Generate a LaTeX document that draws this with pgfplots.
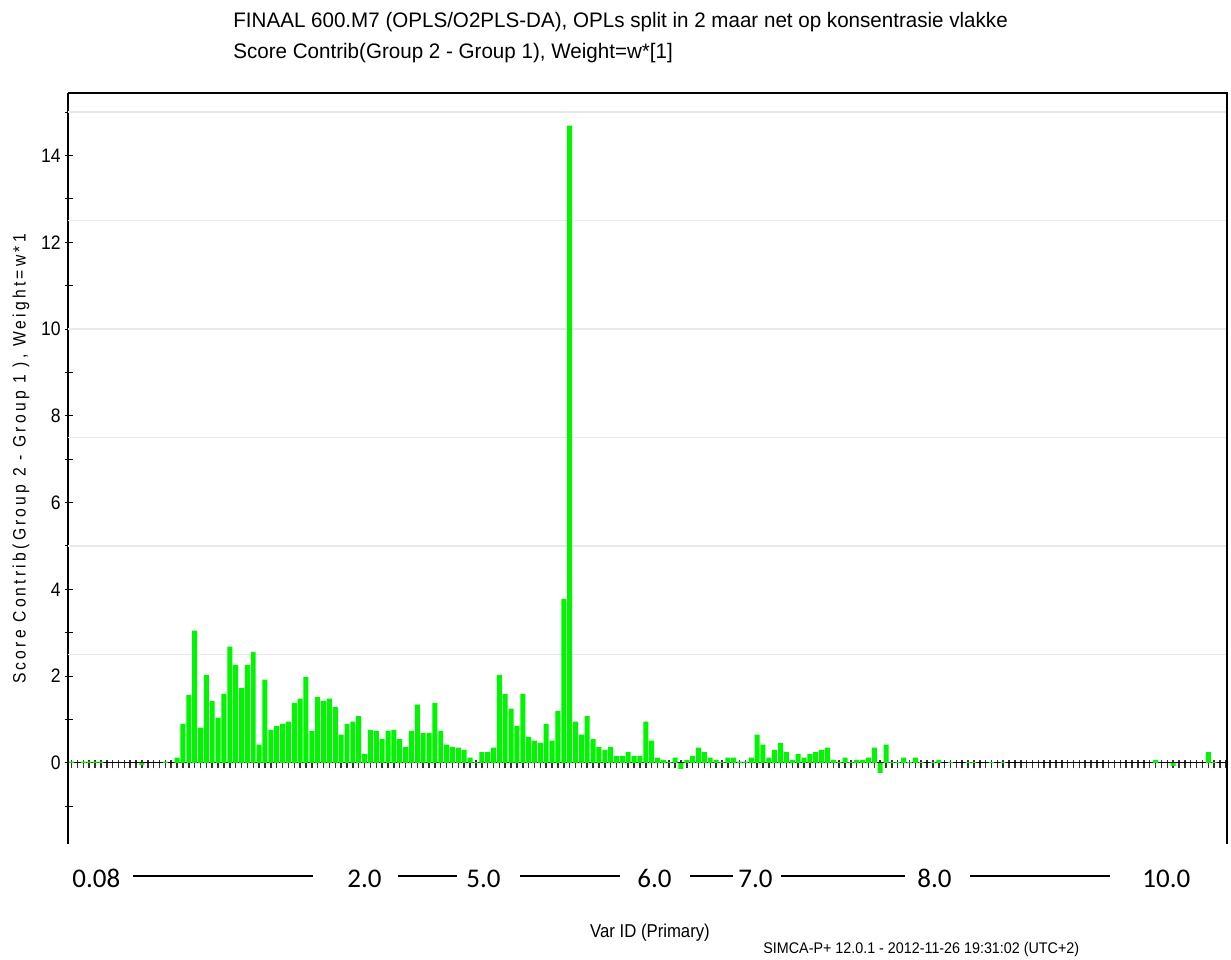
\documentclass[border=0pt]{standalone}
\usepackage{fontspec}
\setmainfont{Liberation Sans}
\newfontfamily\arialt[FakeStretch=0.9]{Liberation Sans}
\newfontfamily\arialf[FakeStretch=0.93]{Liberation Sans}
\newfontfamily\arialls[FakeStretch=0.87,LetterSpace=18]{Liberation Sans}
\newfontfamily\arialr[FakeStretch=0.98]{Liberation Sans}
\newfontfamily\carlito{Carlito}
\usepackage{pgfplots}
\pgfplotsset{compat=1.18}
\usepackage{pgfplotstable}
\definecolor{barg}{RGB}{0,245,0}
\definecolor{gridc}{RGB}{232,232,232}

\pgfplotstableread{
idx val
0 0.03
2 0.03
3 0.03
4 0.03
5 0.03
12 -0.05
16 0.03
18 0.12
19 0.90
20 1.57
21 3.05
22 0.81
23 2.03
24 1.43
25 1.04
26 1.59
27 2.68
28 2.26
29 1.73
30 2.26
31 2.56
32 0.42
33 1.92
34 0.76
35 0.85
36 0.90
37 0.95
38 1.38
39 1.48
40 1.98
41 0.74
42 1.52
43 1.43
44 1.48
45 1.29
46 0.65
47 0.90
48 0.95
49 1.08
50 0.21
51 0.76
52 0.74
53 0.55
54 0.74
55 0.76
56 0.55
57 0.37
58 0.74
59 1.34
60 0.69
61 0.69
62 1.38
63 0.74
64 0.42
65 0.37
66 0.35
67 0.30
68 0.12
69 0.02
70 0.25
71 0.25
72 0.35
73 2.03
74 1.59
75 1.25
76 0.85
77 1.59
78 0.60
79 0.51
80 0.46
81 0.90
82 0.51
83 1.20
84 3.78
85 14.69
86 0.95
87 0.65
88 1.08
89 0.55
90 0.37
91 0.30
92 0.37
93 0.16
94 0.16
95 0.25
96 0.16
97 0.16
98 0.95
99 0.51
100 0.12
101 0.07
102 0.02
103 0.12
104 -0.14
105 0.07
106 0.16
107 0.35
108 0.25
109 0.12
110 0.07
111 0.02
112 0.12
113 0.12
114 0.03
115 0.03
116 0.12
117 0.65
118 0.42
119 0.12
120 0.30
121 0.46
122 0.25
123 0.07
124 0.21
125 0.12
126 0.21
127 0.25
128 0.30
129 0.35
130 0.07
131 0.02
132 0.12
133 0.02
134 0.07
135 0.07
136 0.12
137 0.35
138 -0.23
139 0.42
140 0.02
141 0.02
142 0.12
143 0.02
144 0.12
145 0.02
147 0.02
148 0.07
150 0.02
153 0.02
154 0.02
157 0.02
159 0.02
185 0.07
188 -0.07
194 0.25
195 0.02
}\scoredata

\begin{document}
\begin{tikzpicture}
\useasboundingbox (-34pt,-57.5pt) rectangle (581.5pt,422pt);
\begin{axis}[
  scale only axis, width=579.5pt, height=375.5pt,
  xmin=-0.62, xmax=197.2, ymin=-1.87, ymax=15.44,
  axis x line=middle, axis y line=left,
  axis line style={-, black, line width=0.6pt},
  hide obscured x ticks=false, hide obscured y ticks=false,
  xtick={0,...,197}, xticklabels=\empty,
  ytick={0,2,...,14}, minor ytick={-1,1,...,15},
  tick align=center, major tick length=4pt, minor tick length=4pt,
  tick style={black, line width=0.5pt},
  y tick style={xshift=0.5pt},
  x tick style={black!80, line width=0.75pt, yshift=-0.7pt},
  /pgf/number format/assume math mode=true,
  yticklabel style={font=\arialt\fontsize{9.75}{11}\selectfont, xshift=1.8pt},
  extra y ticks={2.5,5,7.5,10,12.5,15},
  extra y tick labels={},
  extra y tick style={grid=major, major tick length=0pt},
  major grid style={gridc, line width=0.8pt},
]
\addplot[ybar, bar width=0.85, bar shift=0pt, fill=barg, draw=none] table[x=idx,y=val]{\scoredata};
\end{axis}
\draw[black, line width=0.6pt] (current axis.north west) -- (current axis.north east) -- (current axis.south east);
\begin{scope}[x=0.5pt,y=-0.5pt,shift={(-34pt,422pt)}]
\node[anchor=base west, inner sep=0, font=\arialr\fontsize{10.5}{12}\selectfont] at (233,28) {FINAAL 600.M7 (OPLS/O2PLS-DA), OPLs split in 2 maar net op konsentrasie vlakke};
\node[anchor=base west, inner sep=0, font=\arialr\fontsize{10.5}{12}\selectfont] at (233,59) {Score Contrib(Group 2 - Group 1), Weight=w*[1]};
\node[rotate=90, inner sep=0, font=\arialls\fontsize{9}{10}\selectfont] at (21,459) {Score Contrib(Group 2 - Group 1 ), Weight=w*1};
\node[anchor=base, inner sep=0, font=\arialt\fontsize{9.3}{11}\selectfont] at (650,937) {Var ID (Primary)};
\node[anchor=base west, inner sep=0, font=\arialf\fontsize{7.7}{9}\selectfont] at (763,953) {SIMCA-P+ 12.0.1 - 2012-11-26 19:31:02 (UTC+2)};
\begin{scope}[every node/.style={anchor=base west, inner sep=0, font=\carlito\fontsize{13.5}{15}\selectfont}]
\node at (72,887) {0.08};
\node at (347,887) {2.0};
\node at (466,887) {5.0};
\node at (637,887) {6.0};
\node at (738,887) {7.0};
\node at (917,887) {8.0};
\node at (1142,887) {10.0};
\end{scope}
\draw[line width=0.7pt] (133,876) -- (313,876);
\draw[line width=0.7pt] (398,876) -- (457,876);
\draw[line width=0.7pt] (520,876) -- (620,876);
\draw[line width=0.7pt] (690,876) -- (733,876);
\draw[line width=0.7pt] (781,876) -- (905,876);
\draw[line width=0.7pt] (970,876) -- (1110,876);
\end{scope}
\end{tikzpicture}
\end{document}
